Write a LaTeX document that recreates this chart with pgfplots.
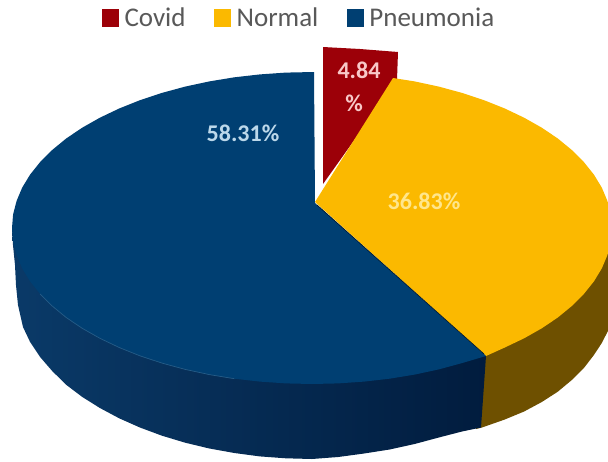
\documentclass[border=0pt]{standalone}
\usepackage{fontspec}
\setmainfont{Carlito}
\usepackage{pgfplots}
\pgfplotsset{compat=1.18}
\definecolor{cRed}{HTML}{9C0008}
\definecolor{cYel}{HTML}{FBB900}
\definecolor{cBlue}{HTML}{003F72}
\definecolor{cWallY}{HTML}{6E5000}
\definecolor{cWallL}{HTML}{0A3A68}
\definecolor{cWallM}{HTML}{06315A}
\definecolor{cWallR}{HTML}{011C3E}
\definecolor{cTxt}{HTML}{595959}
\definecolor{cLblB}{HTML}{BCD8EA}
\definecolor{cLblY}{HTML}{FFE68C}
\definecolor{cLblR}{HTML}{F8C8C8}
\begin{document}
\begin{tikzpicture}
\begin{axis}[
  scale only axis, width=608pt, height=461pt,
  xmin=0, xmax=608, ymin=0, ymax=461, y dir=reverse,
  hide axis, clip=true,
  legend columns=3,
  legend cell align=left,
  legend style={at={(0.1678,0.961)}, anchor=west, draw=none, fill=none,
    inner sep=0pt, outer sep=0pt,
    font=\fontsize{27}{30}\selectfont, text=cTxt,
    /tikz/every even column/.style={column sep=26.5pt},
    /tikz/every odd column/.style={column sep=3.5pt}},
  legend image code/.code={\path[#1,draw=none] (0pt,-9pt) rectangle (17pt,9pt);},
]
% page background
\addplot[fill=white, draw=none, forget plot] coordinates {(0,0) (608,0) (608,461) (0,461)} --cycle;
% yellow wall (under the blue wall at their shared edge)
\addplot[draw=none, fill=cWallY, forget plot] coordinates {
 (612,228) (612,322) (607.4,332) (601.8,343) (593.9,355) (583.9,368) (571.8,380) (557.8,391.7) (541.8,402) (524.1,411.5) (504.8,419.5) (482,427.5) (476,429) (478,356)} --cycle;
% blue wall
\addplot[draw=none, left color=cWallL, middle color=cWallM, right color=cWallR, forget plot] coordinates {
 (12,228) (13,245) (15,265) (16,285) (18,305) (23,327) (30.1,342) (40.1,357) (52.2,371) (66.2,384.8) (82.2,396.9) (99.9,408) (119.2,418.3) (139.9,427.5) (162,435.7) (185.2,442.7) (209.4,448.5) (234.4,453) (259.9,456.4) (285.8,458.3) (312,459) (338.2,457) (364.1,453.5) (389.6,449.5) (414.6,444) (438.8,437.5) (462,431.5) (481,427.5) (486,356)} --cycle;
% red slice (legend entry 1)
\addplot[draw=none, fill=cRed] coordinates {(323,47) (360,49) (398,52) (397,80) (323,184)} --cycle;
\addlegendentry{Covid}
% yellow slice (legend entry 2)
\addplot[draw=none, fill=cYel] coordinates {
 (315,202) (393,78) (414.6,81.4) (438.8,86.6) (462,92.9) (484,100.2) (504.8,108.5) (524.1,117.7) (541.8,127.7) (557.8,138.5) (571.8,150) (583.9,162.1) (593.9,174.6) (601.8,187.6) (607.4,200.9) (610.9,214.4) (612,228) (610.9,241.6) (607.4,255.1) (601.8,268.4) (593.9,281.4) (583.9,293.9) (571.8,306) (557.8,317.5) (541.8,328.3) (524.1,338.3) (504.8,347.5) (486,356)} --cycle;
\addlegendentry{Normal}
% blue slice (legend entry 3)
\addplot[draw=none, fill=cBlue] coordinates {
 (314,72) (285.8,72.6) (259.9,74.4) (234.4,77.3) (209.4,81.4) (185.2,86.6) (162,92.9) (139.9,100.2) (119.2,108.5) (99.9,117.7) (82.2,127.7) (66.2,138.5) (52.2,150) (40.1,162.1) (30.1,174.6) (22.2,187.6) (16.6,200.9) (13.1,214.4) (12,228) (13.1,241.6) (16.6,255.1) (22.2,268.4) (30.1,281.4) (40.1,293.9) (52.2,306) (66.2,317.5) (82.2,328.3) (99.9,338.3) (119.2,347.5) (139.9,355.8) (162,363.1) (185.2,369.4) (209.4,374.6) (234.4,378.7) (259.9,381.6) (285.8,383.4) (312,384) (338.2,383.4) (364.1,381.6) (389.6,378.7) (414.6,374.6) (438.8,369.4) (462,363.1) (486,356) (315,203)} --cycle;
\addlegendentry{Pneumonia}
% thin edge lines
\addplot[draw=black!60!cBlue, line width=0.7pt, forget plot] coordinates {(317,205) (484,354)};
\addplot[draw=cBlue!85!white, line width=0.7pt, forget plot] coordinates {(40.1,293.9) (52.2,306) (66.2,317.5) (82.2,328.3) (99.9,338.3) (119.2,347.5) (139.9,355.8) (162,363.1) (185.2,369.4) (209.4,374.6) (234.4,378.7)};
% labels
\node[text=cLblB, font=\bfseries\fontsize{24}{28}\selectfont] at (axis cs:243,133) {58.31\%};
\node[text=cLblY, font=\bfseries\fontsize{24}{28}\selectfont] at (axis cs:424,201) {36.83\%};
\node[text=cLblR, font=\bfseries\fontsize{24}{28}\selectfont] at (axis cs:359,70) {4.84};
\node[text=cLblR, font=\bfseries\fontsize{24}{28}\selectfont] at (axis cs:354,103) {\%};
\end{axis}
\end{tikzpicture}
\end{document}
